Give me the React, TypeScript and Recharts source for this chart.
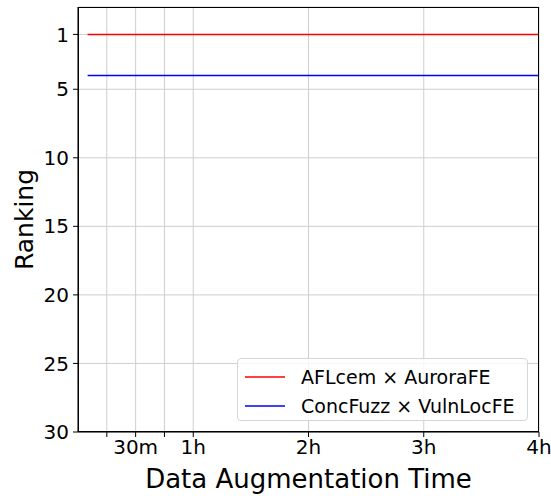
import { LineChart, Line, XAxis, YAxis, CartesianGrid } from 'recharts';

// time in minutes of data augmentation
const minutes = [5, 15, 30, 45, 60, 120, 180, 240];
const aflcemRank = [1, 1, 1, 1, 1, 1, 1, 1];
const concfuzzRank = [4, 4, 4, 4, 4, 4, 4, 4];

const xTicks = [15, 30, 45, 60, 120, 180, 240];
const xTickLabels = ['', '30m', '', '1h', '2h', '3h', '4h'];
const yTicks = [1, 5, 10, 15, 20, 25, 30];

const SERIES = [
  { key: 'aflcem', name: 'AFLcem × AuroraFE', color: '#ff0000', values: aflcemRank },
  { key: 'concfuzz', name: 'ConcFuzz × VulnLocFE', color: '#0000ff', values: concfuzzRank },
];

const FONT = '"DejaVu Sans", sans-serif';

const W = 551;
const H = 496;
const MARGIN = { top: 7, right: 12, left: 0, bottom: 0 };
const Y_AXIS_W = 78;
const X_AXIS_H = 64;

const data = minutes.map((m, i) => {
  const row: Record<string, number> = { minute: m };
  SERIES.forEach((s) => {
    row[s.key] = s.values[i];
  });
  return row;
});

function LegendBox() {
  return (
    <div
      style={{
        position: 'absolute',
        left: 237,
        top: 358,
        width: 291,
        height: 63,
        boxSizing: 'border-box',
        background: 'rgba(255,255,255,0.8)',
        border: '1px solid #d6d6d6',
        borderRadius: 4,
        fontFamily: FONT,
        fontSize: 19,
        color: '#000',
        padding: '3px 0 0 7px',
      }}
    >
      {SERIES.map((s) => (
        <div key={s.key} style={{ display: 'flex', alignItems: 'center', height: 29 }}>
          <svg width={40} height={4} style={{ marginRight: 16 }}>
            <line x1={0} y1={2} x2={40} y2={2} stroke={s.color} strokeWidth={1.5} />
          </svg>
          <span>{s.name}</span>
        </div>
      ))}
    </div>
  );
}

export default function App() {
  // plot box, used only for the matplotlib-style frame (top/right spines)
  const px = MARGIN.left + Y_AXIS_W;
  const py = MARGIN.top;
  const pw = W - MARGIN.right - px;
  const ph = H - MARGIN.bottom - X_AXIS_H - py;

  return (
    <div style={{ position: 'absolute', left: 0, top: 0, width: W, height: H, background: '#fff' }}>
      <LineChart width={W} height={H} data={data} margin={MARGIN}>
        <CartesianGrid stroke="#cfcfcf" strokeWidth={1} />
        <XAxis
          type="number"
          dataKey="minute"
          domain={[0, 240]}
          ticks={xTicks}
          tickFormatter={(v: number) => xTickLabels[xTicks.indexOf(v)] ?? ''}
          height={X_AXIS_H}
          stroke="#000"
          tickSize={5}
          tickMargin={3}
          tick={{ fontSize: 20, fill: '#000', fontFamily: FONT }}
          label={{ value: 'Data Augmentation Time', position: 'insideBottom', offset: 8, fontSize: 26, fill: '#000', fontFamily: FONT }}
        />
        <YAxis
          type="number"
          reversed
          domain={[-1, 30]}
          ticks={yTicks}
          width={Y_AXIS_W}
          stroke="#000"
          tickSize={5}
          tickMargin={4}
          tick={{ fontSize: 20, fill: '#000', fontFamily: FONT }}
          label={({ viewBox }: any) => (
            <text
              x={viewBox.x + 33}
              y={viewBox.y + viewBox.height / 2}
              transform={`rotate(-90, ${viewBox.x + 33}, ${viewBox.y + viewBox.height / 2})`}
              textAnchor="middle"
              fontSize={25}
              fontFamily={FONT}
              fill="#000"
            >
              Ranking
            </text>
          )}
        />
        {SERIES.map((s) => (
          <Line
            key={s.key}
            dataKey={s.key}
            name={s.name}
            stroke={s.color}
            strokeWidth={1.5}
            dot={false}
            type="linear"
            isAnimationActive={false}
          />
        ))}
      </LineChart>
      <svg width={W} height={H} style={{ position: 'absolute', left: 0, top: 0, pointerEvents: 'none' }}>
        <rect x={px + 0.5} y={py + 0.5} width={pw - 1} height={ph - 1} fill="none" stroke="#000" strokeWidth={1} />
      </svg>
      <LegendBox />
    </div>
  );
}
